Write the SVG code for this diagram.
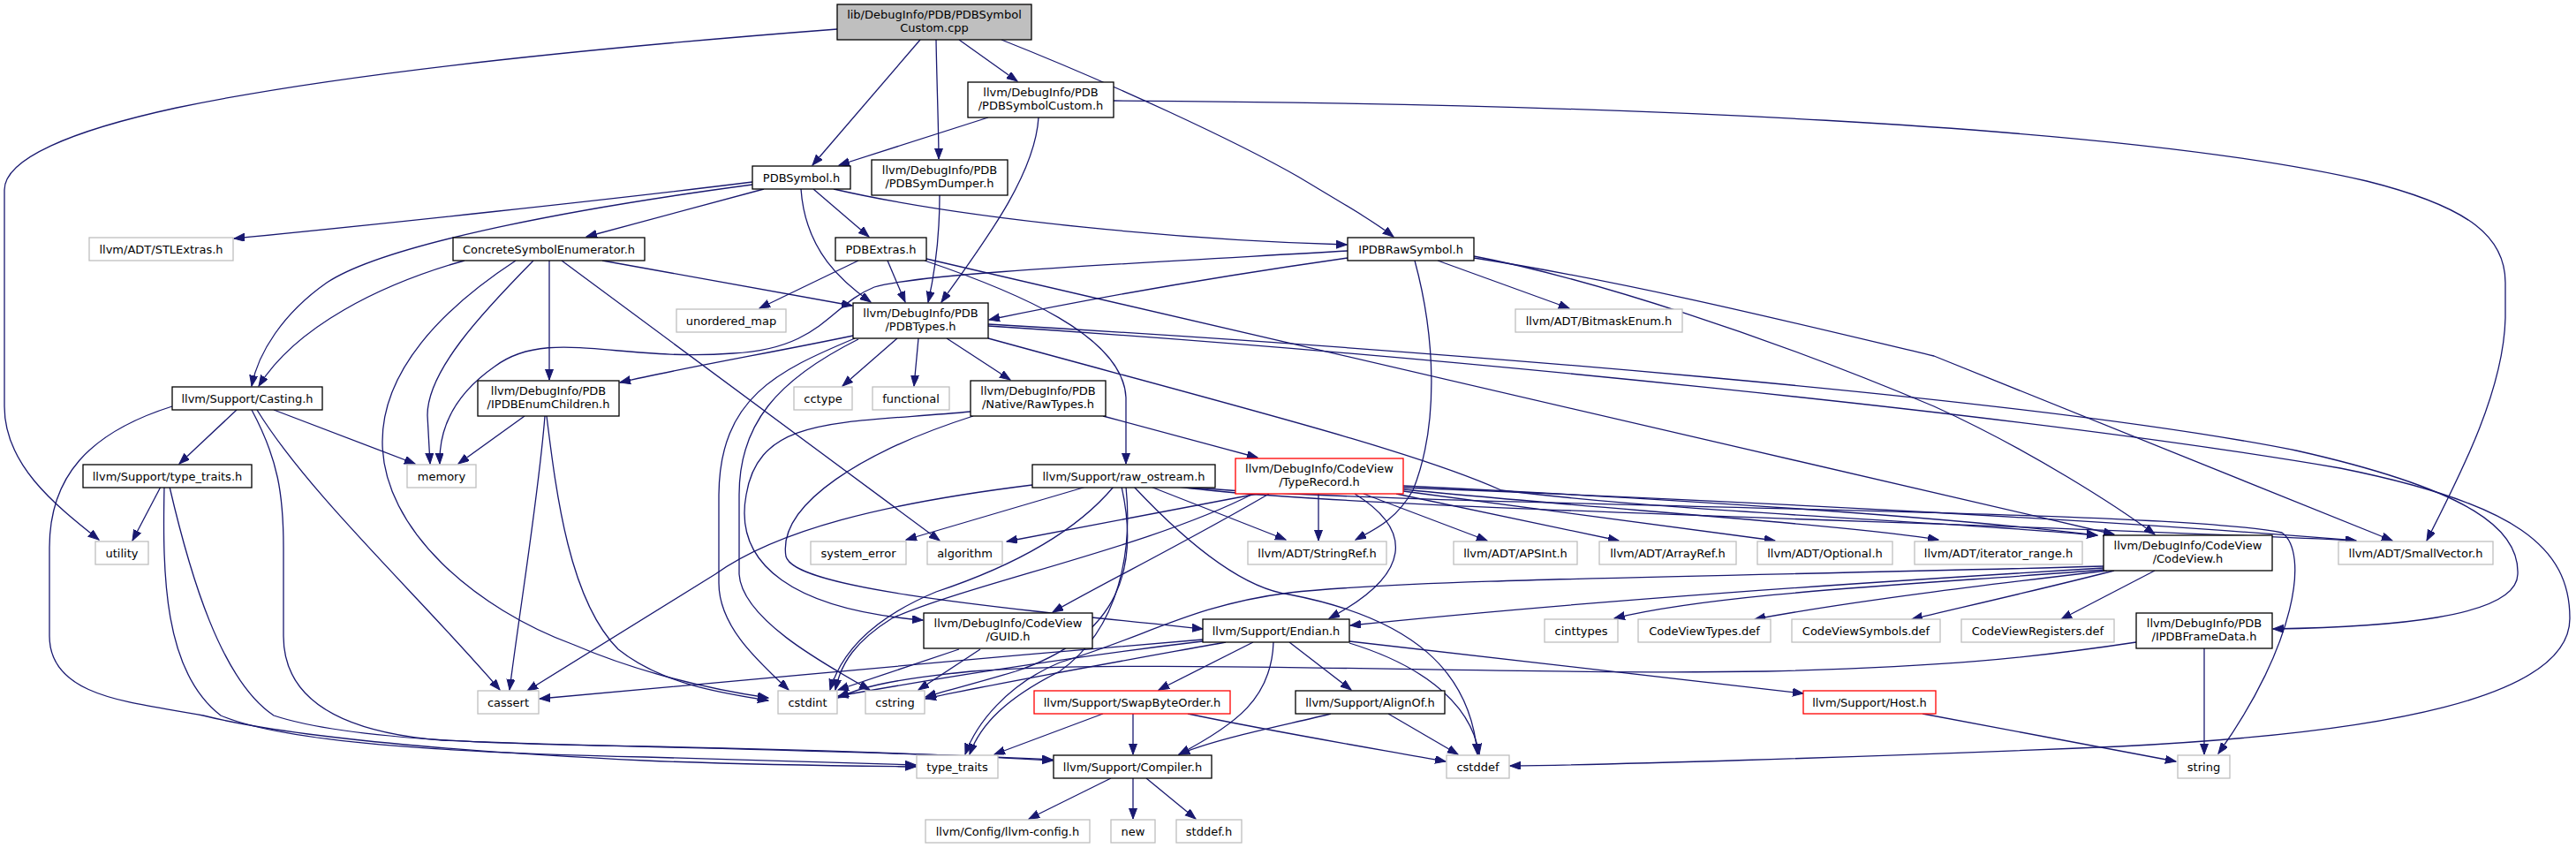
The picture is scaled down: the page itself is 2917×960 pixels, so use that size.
<svg xmlns="http://www.w3.org/2000/svg" width="2917" height="960" viewBox="0 0 2917 960">
<style>
.n rect{fill:#fff;stroke:#000;stroke-width:1.3}
.g rect{stroke:#bfbfbf}
.r rect{stroke:#ff0000}
.root rect{fill:#bfbfbf}
text{font-family:"DejaVu Sans","Liberation Sans",sans-serif;font-size:13px;text-anchor:middle;fill:#000}
.e path{fill:none;stroke:#191970;stroke-width:1.3;marker-end:url(#a)}
</style>
<defs>
<marker id="a" markerWidth="13" markerHeight="10" refX="12" refY="4.5" orient="auto" markerUnits="userSpaceOnUse"><path d="M0,0 L12,4.5 L0,9 z" fill="#191970" stroke="#191970" stroke-width="1"/></marker>
</defs>
<rect width="2917" height="960" fill="#fff"/>
<g class="e" id="edges">
<path d="M948,33 C700,52 400,80 200,122 C80,148 5,180 5,215 L5,460 C5,525 60,570 112,611"/>
<path d="M1042,45 L920,187"/>
<path d="M1060,45 C1061,100 1063,150 1063,180"/>
<path d="M1086,45 L1152,92"/>
<path d="M1134,45 C1260,95 1400,160 1470,200 C1520,230 1555,250 1578,268"/>
<path d="M1119,133 L950,187"/>
<path d="M1176,133 C1172,200 1110,280 1066,342"/>
<path d="M1261,114 C1800,117 2400,140 2680,205 C2800,235 2837,270 2837,320 L2837,360 C2835,440 2790,530 2748,612"/>
<path d="M852,206 C700,225 420,255 265,270"/>
<path d="M852,209 C620,240 430,280 370,320 C320,355 292,400 285,437"/>
<path d="M865,214 L664,268"/>
<path d="M921,214 L984,268"/>
<path d="M944,214 C1100,250 1350,272 1525,277"/>
<path d="M907,214 C912,285 955,320 986,342"/>
<path d="M1064,221 C1064,280 1056,320 1051,342"/>
<path d="M682,295 L965,346"/>
<path d="M622,295 L622,430"/>
<path d="M526,295 C430,322 335,370 293,437"/>
<path d="M604,295 C545,355 484,420 484,470 L487,525"/>
<path d="M584,295 C500,350 433,420 433,500 C433,600 540,690 650,730 C720,760 800,780 870,790"/>
<path d="M636,295 L1064,612"/>
<path d="M972,295 L860,349"/>
<path d="M1005,295 L1025,342"/>
<path d="M1047,295 C1150,330 1272,380 1275,450 L1275,525"/>
<path d="M1049,293 L2394,605"/>
<path d="M1526,292 C1400,310 1250,335 1120,362"/>
<path d="M1526,284 C1250,300 1040,310 990,325 C940,345 930,395 830,400 C700,410 620,370 560,415 C510,450 497,490 498,525"/>
<path d="M1628,295 L1777,349"/>
<path d="M1602,295 C1625,380 1630,480 1600,555 C1580,590 1555,600 1535,611"/>
<path d="M1669,290 C1800,315 2000,380 2190,460 C2300,510 2400,575 2440,605"/>
<path d="M1669,292 C1850,320 2050,370 2190,403 L2709,612"/>
<path d="M268,464 L203,525"/>
<path d="M310,464 L470,525"/>
<path d="M291,464 C350,560 480,680 566,781"/>
<path d="M195,460 C100,490 56,540 56,620 L56,720 C56,790 150,795 230,810 C350,840 600,855 730,861 C850,866 960,867 1037,868"/>
<path d="M285,464 C315,520 321,560 321,620 L321,720 C321,800 400,830 500,838 C650,845 1000,850 1192,860"/>
<path d="M594,471 L519,525"/>
<path d="M617,471 C610,560 590,680 577,781"/>
<path d="M619,471 C630,560 645,680 700,735 C750,775 820,785 870,793"/>
<path d="M966,380 C870,400 780,415 702,433"/>
<path d="M1016,383 L954,437"/>
<path d="M1040,383 L1035,437"/>
<path d="M1072,383 L1144,430"/>
<path d="M968,383 C880,420 815,450 814,560 L814,660 C814,710 860,750 893,781"/>
<path d="M972,384 C880,430 837,480 837,560 L837,650 C840,700 930,750 985,781"/>
<path d="M1119,383 C1400,460 1600,510 1700,555 C1900,580 2200,590 2375,606"/>
<path d="M1119,367 C1600,395 2300,450 2600,510 C2800,555 2853,600 2851,650 C2850,700 2700,710 2574,712"/>
<path d="M1119,369 C1600,400 2300,470 2650,530 C2850,570 2910,620 2910,700 C2910,790 2700,830 2400,845 C2100,858 1800,866 1710,867"/>
<path d="M182,551 L150,612"/>
<path d="M186,551 C184,650 185,760 250,810 C320,840 500,852 730,857 C900,862 990,865 1037,866"/>
<path d="M192,551 C215,650 250,770 310,810 C400,840 600,843 730,845 C900,848 1100,855 1192,861"/>
<path d="M1249,471 L1424,518"/>
<path d="M1099,466 C950,480 860,470 845,560 C830,640 900,690 1045,702"/>
<path d="M1102,471 C980,510 880,570 890,630 C900,665 1100,685 1362,712"/>
<path d="M1169,549 C1000,570 880,600 810,650 L597,782"/>
<path d="M1230,551 L1026,611"/>
<path d="M1261,551 C1220,600 1150,640 1060,670 C1000,695 955,730 940,781"/>
<path d="M1275,551 C1282,620 1270,710 1200,760 C1140,790 1110,820 1098,854"/>
<path d="M1284,551 C1330,600 1400,665 1460,673 C1600,700 1665,760 1673,854"/>
<path d="M1303,551 L1456,611"/>
<path d="M1335,551 C1500,575 2200,590 2668,612"/>
<path d="M1340,551 C1600,575 2450,575 2584,603 C2615,625 2600,730 2512,853"/>
<path d="M1270,551 C1290,640 1270,720 1150,760 C1100,775 1070,782 1048,789"/>
<path d="M1493,559 L1493,612"/>
<path d="M1544,559 L1684,612"/>
<path d="M1581,559 L1833,612"/>
<path d="M1589,556 L2010,612"/>
<path d="M1589,554 C1800,575 2100,595 2195,611"/>
<path d="M1589,550 C1900,565 2200,585 2375,606"/>
<path d="M1589,552 C2000,568 2400,590 2668,612"/>
<path d="M1424,559 L1140,613"/>
<path d="M1419,559 C1300,620 1100,660 1010,700 C970,725 952,750 946,781"/>
<path d="M1437,559 C1350,610 1250,660 1192,693"/>
<path d="M1534,559 C1600,600 1600,650 1505,700"/>
<path d="M1086,735 L949,781"/>
<path d="M1110,735 L1040,781"/>
<path d="M1362,724 C1100,745 800,775 611,791"/>
<path d="M1362,726 C1200,745 1050,770 949,788"/>
<path d="M1388,727 C1250,752 1120,775 1048,791"/>
<path d="M1419,727 L1312,781"/>
<path d="M1442,727 C1440,790 1400,820 1335,854"/>
<path d="M1460,727 L1530,781"/>
<path d="M1528,728 C1600,750 1665,790 1675,854"/>
<path d="M1528,726 L2042,785"/>
<path d="M1249,808 L1126,854"/>
<path d="M1283,808 L1283,854"/>
<path d="M1345,808 C1450,830 1560,848 1637,862"/>
<path d="M1507,808 C1460,820 1380,835 1335,854"/>
<path d="M1572,808 L1651,854"/>
<path d="M2177,808 L2464,862"/>
<path d="M1258,881 L1165,927"/>
<path d="M1283,881 L1283,927"/>
<path d="M1298,881 L1354,927"/>
<path d="M2496,734 L2496,854"/>
<path d="M2419,727 C2300,745 2200,755 2000,760 C1700,765 1300,745 1100,760 C1000,770 970,780 949,790"/>
<path d="M2382,645 C2200,660 1950,670 1828,700"/>
<path d="M2386,646 C2250,662 2100,680 1987,701"/>
<path d="M2394,646 C2300,670 2210,690 2165,701"/>
<path d="M2440,646 L2334,701"/>
<path d="M2382,643 C2100,660 1800,680 1529,708"/>
<path d="M2382,641 C2000,652 1600,655 1460,671 C1350,685 1300,720 1200,750 C1140,775 1105,820 1093,854"/>
</g>
<g id="n0" class="n root"><rect x="948" y="5" width="220" height="40"/><text x="1058" y="20.5">lib/DebugInfo/PDB/PDBSymbol</text><text x="1058" y="35.5">Custom.cpp</text></g>
<g id="n1" class="n"><rect x="1096" y="93" width="165" height="40"/><text x="1178.5" y="108.5">llvm/DebugInfo/PDB</text><text x="1178.5" y="123.5">/PDBSymbolCustom.h</text></g>
<g id="n2" class="n"><rect x="852" y="188" width="111" height="26"/><text x="907.5" y="205.5">PDBSymbol.h</text></g>
<g id="n3" class="n"><rect x="987" y="181" width="154" height="40"/><text x="1064" y="196.5">llvm/DebugInfo/PDB</text><text x="1064" y="211.5">/PDBSymDumper.h</text></g>
<g id="n4" class="n g"><rect x="101" y="269" width="163" height="26"/><text x="182.5" y="286.5">llvm/ADT/STLExtras.h</text></g>
<g id="n5" class="n"><rect x="513" y="269" width="217" height="26"/><text x="621.5" y="286.5">ConcreteSymbolEnumerator.h</text></g>
<g id="n6" class="n"><rect x="946" y="269" width="103" height="26"/><text x="997.5" y="286.5">PDBExtras.h</text></g>
<g id="n7" class="n"><rect x="1526" y="269" width="143" height="26"/><text x="1597.5" y="286.5">IPDBRawSymbol.h</text></g>
<g id="n8" class="n g"><rect x="766" y="350" width="124" height="26"/><text x="828" y="367.5">unordered_map</text></g>
<g id="n9" class="n"><rect x="966" y="343" width="153" height="40"/><text x="1042.5" y="358.5">llvm/DebugInfo/PDB</text><text x="1042.5" y="373.5">/PDBTypes.h</text></g>
<g id="n10" class="n g"><rect x="1716" y="350" width="189" height="26"/><text x="1810.5" y="367.5">llvm/ADT/BitmaskEnum.h</text></g>
<g id="n11" class="n"><rect x="195" y="438" width="170" height="26"/><text x="280" y="455.5">llvm/Support/Casting.h</text></g>
<g id="n12" class="n"><rect x="541" y="431" width="160" height="40"/><text x="621" y="446.5">llvm/DebugInfo/PDB</text><text x="621" y="461.5">/IPDBEnumChildren.h</text></g>
<g id="n13" class="n g"><rect x="899" y="438" width="66" height="26"/><text x="932" y="455.5">cctype</text></g>
<g id="n14" class="n g"><rect x="988" y="438" width="87" height="26"/><text x="1031.5" y="455.5">functional</text></g>
<g id="n15" class="n"><rect x="1099" y="431" width="153" height="40"/><text x="1175.5" y="446.5">llvm/DebugInfo/PDB</text><text x="1175.5" y="461.5">/Native/RawTypes.h</text></g>
<g id="n16" class="n"><rect x="94" y="526" width="191" height="26"/><text x="189.5" y="543.5">llvm/Support/type_traits.h</text></g>
<g id="n17" class="n g"><rect x="461" y="526" width="78" height="26"/><text x="500" y="543.5">memory</text></g>
<g id="n18" class="n"><rect x="1169" y="526" width="207" height="26"/><text x="1272.5" y="543.5">llvm/Support/raw_ostream.h</text></g>
<g id="n19" class="n r"><rect x="1399" y="519" width="190" height="40"/><text x="1494" y="534.5">llvm/DebugInfo/CodeView</text><text x="1494" y="549.5">/TypeRecord.h</text></g>
<g id="n20" class="n g"><rect x="108" y="613" width="60" height="26"/><text x="138" y="630.5">utility</text></g>
<g id="n21" class="n g"><rect x="918" y="613" width="108" height="26"/><text x="972" y="630.5">system_error</text></g>
<g id="n22" class="n g"><rect x="1050" y="613" width="85" height="26"/><text x="1092.5" y="630.5">algorithm</text></g>
<g id="n23" class="n g"><rect x="1413" y="613" width="157" height="26"/><text x="1491.5" y="630.5">llvm/ADT/StringRef.h</text></g>
<g id="n24" class="n g"><rect x="1646" y="613" width="140" height="26"/><text x="1716" y="630.5">llvm/ADT/APSInt.h</text></g>
<g id="n25" class="n g"><rect x="1811" y="613" width="155" height="26"/><text x="1888.5" y="630.5">llvm/ADT/ArrayRef.h</text></g>
<g id="n26" class="n g"><rect x="1990" y="613" width="153" height="26"/><text x="2066.5" y="630.5">llvm/ADT/Optional.h</text></g>
<g id="n27" class="n g"><rect x="2168" y="613" width="190" height="26"/><text x="2263" y="630.5">llvm/ADT/iterator_range.h</text></g>
<g id="n28" class="n"><rect x="2382" y="606" width="191" height="40"/><text x="2477.5" y="621.5">llvm/DebugInfo/CodeView</text><text x="2477.5" y="636.5">/CodeView.h</text></g>
<g id="n29" class="n g"><rect x="2648" y="613" width="175" height="26"/><text x="2735.5" y="630.5">llvm/ADT/SmallVector.h</text></g>
<g id="n30" class="n"><rect x="1046" y="694" width="191" height="40"/><text x="1141.5" y="709.5">llvm/DebugInfo/CodeView</text><text x="1141.5" y="724.5">/GUID.h</text></g>
<g id="n31" class="n"><rect x="1362" y="701" width="166" height="26"/><text x="1445" y="718.5">llvm/Support/Endian.h</text></g>
<g id="n32" class="n g"><rect x="1749" y="701" width="83" height="26"/><text x="1790.5" y="718.5">cinttypes</text></g>
<g id="n33" class="n g"><rect x="1855" y="701" width="150" height="26"/><text x="1930" y="718.5">CodeViewTypes.def</text></g>
<g id="n34" class="n g"><rect x="2029" y="701" width="168" height="26"/><text x="2113" y="718.5">CodeViewSymbols.def</text></g>
<g id="n35" class="n g"><rect x="2221" y="701" width="173" height="26"/><text x="2307.5" y="718.5">CodeViewRegisters.def</text></g>
<g id="n36" class="n"><rect x="2419" y="694" width="154" height="40"/><text x="2496" y="709.5">llvm/DebugInfo/PDB</text><text x="2496" y="724.5">/IPDBFrameData.h</text></g>
<g id="n37" class="n g"><rect x="541" y="782" width="69" height="26"/><text x="575.5" y="799.5">cassert</text></g>
<g id="n38" class="n g"><rect x="881" y="782" width="67" height="26"/><text x="914.5" y="799.5">cstdint</text></g>
<g id="n39" class="n g"><rect x="980" y="782" width="67" height="26"/><text x="1013.5" y="799.5">cstring</text></g>
<g id="n40" class="n r"><rect x="1171" y="782" width="222" height="26"/><text x="1282" y="799.5">llvm/Support/SwapByteOrder.h</text></g>
<g id="n41" class="n"><rect x="1467" y="782" width="169" height="26"/><text x="1551.5" y="799.5">llvm/Support/AlignOf.h</text></g>
<g id="n42" class="n r"><rect x="2042" y="782" width="150" height="26"/><text x="2117" y="799.5">llvm/Support/Host.h</text></g>
<g id="n43" class="n g"><rect x="1038" y="855" width="92" height="26"/><text x="1084" y="872.5">type_traits</text></g>
<g id="n44" class="n"><rect x="1193" y="855" width="179" height="26"/><text x="1282.5" y="872.5">llvm/Support/Compiler.h</text></g>
<g id="n45" class="n g"><rect x="1638" y="855" width="71" height="26"/><text x="1673.5" y="872.5">cstddef</text></g>
<g id="n46" class="n g"><rect x="2466" y="855" width="59" height="26"/><text x="2495.5" y="872.5">string</text></g>
<g id="n47" class="n g"><rect x="1048" y="928" width="186" height="26"/><text x="1141" y="945.5">llvm/Config/llvm-config.h</text></g>
<g id="n48" class="n g"><rect x="1258" y="928" width="50" height="26"/><text x="1283" y="945.5">new</text></g>
<g id="n49" class="n g"><rect x="1332" y="928" width="74" height="26"/><text x="1369" y="945.5">stddef.h</text></g>
</svg>
